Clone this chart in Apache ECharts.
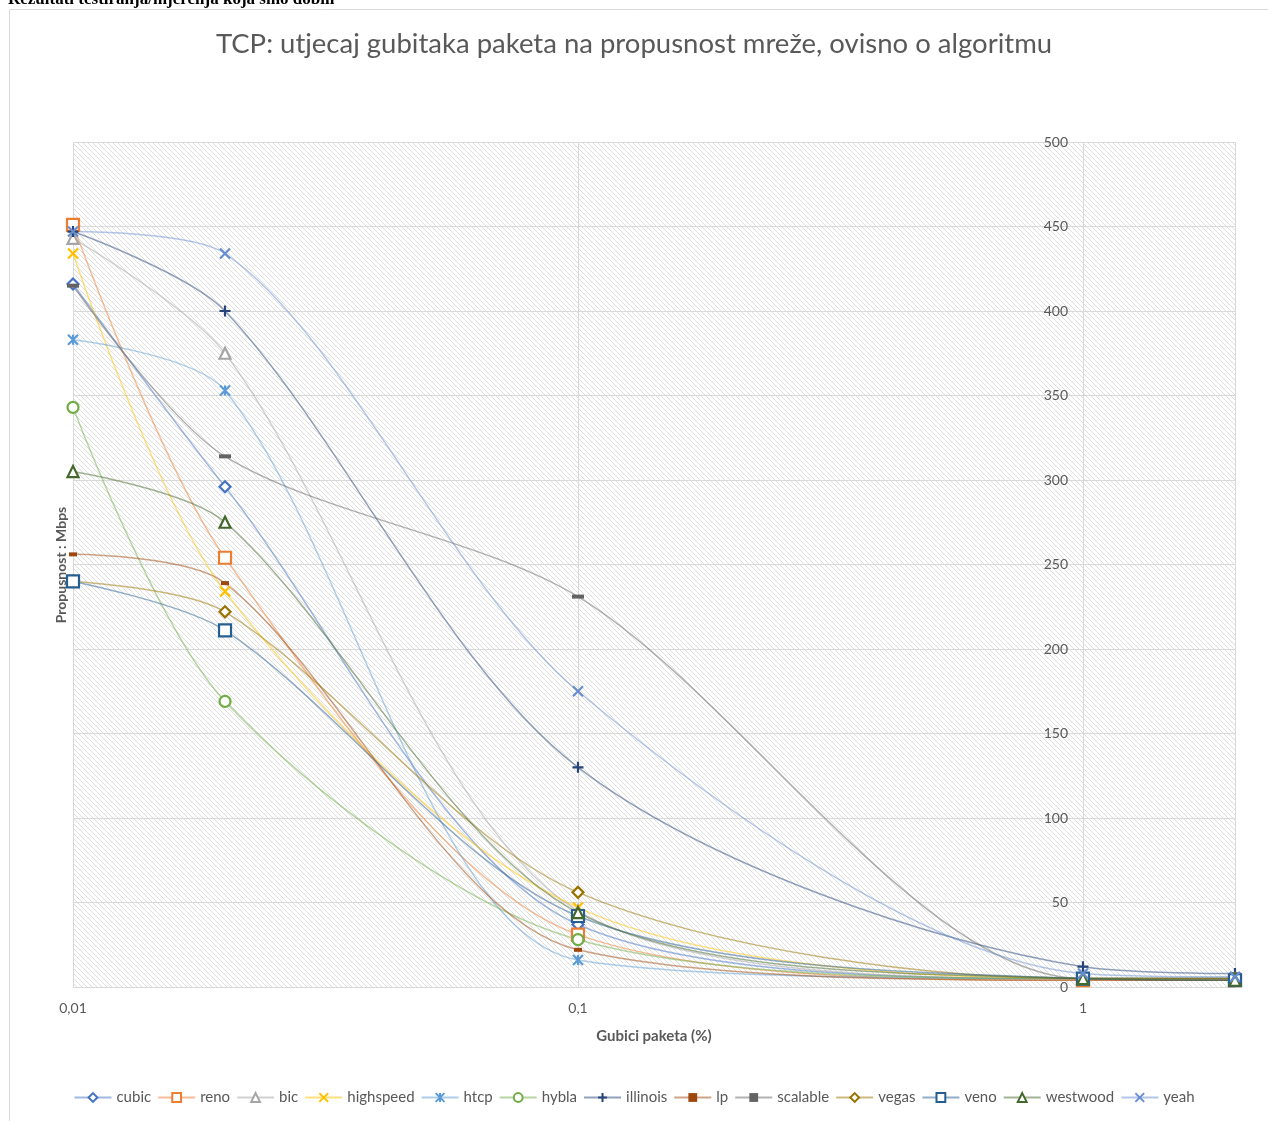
<!DOCTYPE html>
<html>
<head>
<meta charset="utf-8">
<title>TCP gubici paketa</title>
<script src="https://cdn.jsdelivr.net/npm/echarts@6/dist/echarts.min.js"></script>
<style>
  html, body { margin: 0; padding: 0; background: #fff; }
  #chart { width: 1268px; height: 1121px; }
</style>
</head>
<body>
<div id="chart"></div>
<script>
// gubici paketa (%) - x os, logaritamska
const lossX = [0.01, 0.02, 0.1, 1, 2];

// propusnost u Mbps po algoritmu
const cubic     = [416, 296, 37, 5, 5];
const reno      = [451, 254, 31, 4, 4];
const bic       = [443, 375, 45, 5, 5];
const highspeed = [434, 234, 47, 5, 5];
const htcp      = [383, 353, 16, 5, 5];
const hybla     = [343, 169, 28, 5, 5];
const illinois  = [447, 400, 130, 12, 8];
const lp        = [256, 239, 22, 4, 4];
const scalable  = [415, 314, 231, 5, 5];
const vegas     = [240, 222, 56, 5, 5];
const veno      = [240, 211, 42, 5, 4];
const westwood  = [305, 275, 44, 5, 4];
const yeah      = [447, 434, 175, 8, 6];

const yTicks = [0, 50, 100, 150, 200, 250, 300, 350, 400, 450, 500];

const X_PATH = 'path://M0,0L10,10M10,0L0,10';
const PLUS_PATH = 'path://M5,0L5,10M0,5L10,5';
const STAR_PATH = 'path://M0,0L10,10M10,0L0,10M5,0L5,10';

const algos = [
    { name: 'cubic', data: cubic, color: '#4472C4', symbol: 'diamond', size: 11 },
    { name: 'reno', data: reno, color: '#ED7D31', symbol: 'rect', size: 12 },
    { name: 'bic', data: bic, color: '#A5A5A5', symbol: 'triangle', size: 11 },
    { name: 'highspeed', data: highspeed, color: '#FFC000', symbol: X_PATH, size: 10 },
    { name: 'htcp', data: htcp, color: '#5B9BD5', symbol: STAR_PATH, size: 10 },
    { name: 'hybla', data: hybla, color: '#70AD47', symbol: 'circle', size: 11 },
    { name: 'illinois', data: illinois, color: '#264478', symbol: PLUS_PATH, size: 11 },
    { name: 'lp', data: lp, color: '#9E480E', symbol: 'rect', size: [8, 4], filled: true },
    { name: 'scalable', data: scalable, color: '#636363', symbol: 'rect', size: [12, 4], filled: true },
    { name: 'vegas', data: vegas, color: '#997300', symbol: 'diamond', size: 11 },
    { name: 'veno', data: veno, color: '#255E91', symbol: 'rect', size: 12 },
    { name: 'westwood', data: westwood, color: '#43682B', symbol: 'triangle', size: 11 },
    { name: 'yeah', data: yeah, color: '#698ED0', symbol: X_PATH, size: 10 }
];

// srafura u pozadini grafa
function makeHatch() {
    const c = document.createElement('canvas');
    c.width = 5;
    c.height = 5;
    const ctx = c.getContext('2d');
    ctx.fillStyle = '#ffffff';
    ctx.fillRect(0, 0, 5, 5);
    ctx.strokeStyle = '#dedede';
    ctx.lineWidth = 1;
    ctx.beginPath();
    ctx.moveTo(-1, -1); ctx.lineTo(6, 6);
    ctx.moveTo(-1, 4); ctx.lineTo(1, 6);
    ctx.moveTo(4, -1); ctx.lineTo(6, 1);
    ctx.stroke();
    return c;
}

const FONT = 'Lato, "Open Sans", sans-serif';
const GREY = '#595959';

const chart = echarts.init(document.getElementById('chart'));

chart.setOption({
    animation: false,
    backgroundColor: '#fff',
    title: {
        text: 'TCP: utjecaj gubitaka paketa na propusnost mreže, ovisno o algoritmu',
        left: 'center',
        top: 25,
        textStyle: { fontFamily: FONT, fontSize: 27.5, fontWeight: 'normal', color: GREY }
    },
    graphic: [
        {
            type: 'rect',
            shape: { x: 9.5, y: 9.5, width: 1270, height: 1130 },
            style: { fill: null, stroke: '#d9d9d9', lineWidth: 1 },
            silent: true
        },
        {
            type: 'text',
            style: {
                x: 8, y: 8,
                text: 'Rezultati testiranja/mjerenja koja smo dobili',
                font: 'bold 17px "Liberation Serif", serif',
                fill: '#000',
                verticalAlign: 'bottom'
            }
        },
        {
            type: 'text',
            x: 61,
            y: 565,
            rotation: Math.PI / 2,
            style: {
                text: 'Propusnost : Mbps',
                font: 'bold 14px ' + FONT,
                fill: GREY,
                align: 'center',
                verticalAlign: 'middle'
            }
        }
    ],
    legend: {
        bottom: 11,
        left: 'center',
        itemWidth: 37,
        itemHeight: 11,
        itemGap: 6,
        textStyle: { fontFamily: FONT, fontSize: 15, color: GREY },
        data: algos.map(a => a.name)
    },
    grid: {
        left: 73,
        right: 33,
        top: 142,
        bottom: 134,
        show: true,
        borderWidth: 0,
        backgroundColor: { image: makeHatch(), repeat: 'repeat' }
    },
    xAxis: {
        type: 'log',
        logBase: 10,
        min: 0.01,
        max: 2,
        name: 'Gubici paketa (%)',
        nameLocation: 'middle',
        nameGap: 42,
        nameTextStyle: { fontFamily: FONT, fontSize: 15, fontWeight: 'bold', color: GREY },
        axisLine: { show: false },
        axisTick: { show: false },
        axisLabel: {
            margin: 14,
            fontFamily: FONT,
            fontSize: 14,
            color: GREY,
            showMaxLabel: false,
            formatter: v => {
                const p = Math.round(Math.log10(v));
                if (Math.abs(Math.log10(v) - p) > 1e-6) return '';
                return String(p >= 0 ? Math.pow(10, p) : Number(Math.pow(10, p).toFixed(-p))).replace('.', ',');
            }
        },
        splitLine: { show: true, lineStyle: { color: '#d9d9d9', width: 1 } }
    },
    yAxis: {
        type: 'value',
        position: 'left',
        offset: -1010,
        min: yTicks[0],
        max: yTicks[yTicks.length - 1],
        interval: yTicks[1] - yTicks[0],
        axisLine: { show: false },
        axisTick: { show: false },
        axisLabel: { margin: 15, fontFamily: FONT, fontSize: 14, color: GREY },
        splitLine: { lineStyle: { color: '#d9d9d9', width: 1 } }
    },
    series: algos.map(a => ({
        name: a.name,
        type: 'line',
        smooth: 0.3,
        data: a.data.map((v, i) => [lossX[i], v]),
        symbol: a.symbol,
        symbolSize: a.size,
        showAllSymbol: true,
        lineStyle: { color: a.color, width: 1.5, opacity: 0.5 },
        itemStyle: {
            color: a.filled ? a.color : '#fff',
            borderColor: a.color,
            borderWidth: a.filled ? 0 : 2.2
        },
        emphasis: { disabled: true }
    }))
});
</script>
</body>
</html>
